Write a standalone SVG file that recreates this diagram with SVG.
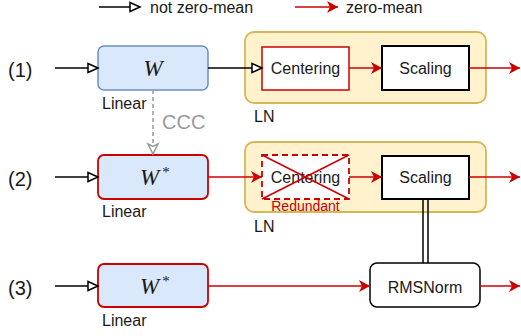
<svg xmlns="http://www.w3.org/2000/svg" width="521" height="336" viewBox="0 0 521 336">
<style>
.t{font-family:"Liberation Sans",Arial,sans-serif;fill:#1a1a1a}
.lbl{font-size:20px}
.sm{font-size:16px}
.md{font-size:16px}
.math{font-family:"Liberation Serif","Times New Roman",serif;font-style:italic;font-size:23px;fill:#1a1a1a}
.lin{fill:#dae8fc;stroke:#6c8ebf;stroke-width:1.5}
.linr{fill:#dae8fc;stroke:#cc0000;stroke-width:1.8}
.ln{fill:#fff2cc;stroke:#d6b656;stroke-width:1.8}
.blk{stroke:#000;stroke-width:1.5;fill:none}
.red{stroke:#cc0000;stroke-width:1.5;fill:none}
</style>
<defs>
<marker id="open" markerUnits="userSpaceOnUse" markerWidth="14" markerHeight="12" refX="11" refY="5" orient="auto" overflow="visible">
<path d="M1,0.5 L11,5 L1,9.5 Z" fill="#fff" stroke="#000" stroke-width="1.5"/>
</marker>
<marker id="redarr" markerUnits="userSpaceOnUse" markerWidth="14" markerHeight="14" refX="11" refY="6" orient="auto" overflow="visible">
<path d="M0,0 L11,6 L0,12 L3,6 Z" fill="#cc0000"/>
</marker>
<marker id="grayopen" markerUnits="userSpaceOnUse" markerWidth="14" markerHeight="12" refX="10" refY="5" orient="auto" overflow="visible">
<path d="M0,0 L10,5 L0,10 L2.5,5 Z" fill="#fff" stroke="#999" stroke-width="1.5"/>
</marker>
</defs>

<!-- legend -->
<g id="legend">
<line x1="99" y1="7" x2="140" y2="7" class="blk" marker-end="url(#open)"/>
<text x="150" y="13" class="t md">not zero-mean</text>
<line x1="295" y1="7" x2="338" y2="7" class="red" marker-end="url(#redarr)"/>
<text x="346" y="13" class="t md">zero-mean</text>
</g>

<!-- row labels -->
<g id="row-labels">
<text x="8" y="77" class="t lbl">(1)</text>
<text x="8" y="186" class="t lbl">(2)</text>
<text x="8" y="295" class="t lbl">(3)</text>
</g>

<!-- containers -->
<g id="ln1">
<rect x="245" y="32" width="241" height="71" rx="9" class="ln"/>
<text x="254" y="122" class="t sm">LN</text>
</g>
<g id="ln2">
<rect x="245" y="142" width="241" height="70" rx="9" class="ln"/>
<text x="254" y="232" class="t sm">LN</text>
</g>

<!-- nodes -->
<g id="linear1">
<rect x="98" y="46" width="110" height="44" rx="6" class="lin"/>
<text x="153" y="76" text-anchor="middle" class="math">W</text>
<text x="102" y="109" class="t sm">Linear</text>
</g>
<g id="centering1">
<rect x="262" y="47" width="87" height="43" fill="#fff" stroke="#cc0000" stroke-width="1.5"/>
<text x="305.5" y="74" text-anchor="middle" class="t md">Centering</text>
</g>
<g id="scaling1">
<rect x="382" y="46" width="87" height="44" fill="#fff" stroke="#000" stroke-width="2"/>
<text x="425.5" y="74" text-anchor="middle" class="t md">Scaling</text>
</g>

<g id="linear2">
<rect x="98" y="155" width="110" height="44" rx="6" class="linr"/>
<text x="140" y="185" class="math">W<tspan font-style="normal" font-size="15" dx="3" dy="-8">*</tspan></text>
<text x="102" y="217" class="t sm">Linear</text>
</g>
<g id="centering2">
<rect x="262" y="155" width="87" height="44" fill="#fff" stroke="#cc0000" stroke-width="1.8" stroke-dasharray="6 4"/>
<text x="305.5" y="183" text-anchor="middle" class="t md">Centering</text>
<line x1="262" y1="155" x2="349" y2="199" stroke="#cc0000" stroke-width="1.5"/>
<line x1="262" y1="199" x2="349" y2="155" stroke="#cc0000" stroke-width="1.5"/>
<text x="305.5" y="211" text-anchor="middle" font-family="Liberation Sans, Arial, sans-serif" font-size="14" fill="#cc0000">Redundant</text>
</g>
<g id="scaling2">
<rect x="382" y="156" width="87" height="43" fill="#fff" stroke="#000" stroke-width="2"/>
<text x="425.5" y="183" text-anchor="middle" class="t md">Scaling</text>
</g>

<g id="linear3">
<rect x="98" y="264" width="110" height="43" rx="6" class="linr"/>
<text x="140" y="294" class="math">W<tspan font-style="normal" font-size="15" dx="3" dy="-8">*</tspan></text>
<text x="102" y="326" class="t sm">Linear</text>
</g>
<g id="rmsnorm">
<rect x="370" y="263" width="110" height="44" rx="7" fill="#fff" stroke="#000" stroke-width="1.5"/>
<text x="425" y="293" text-anchor="middle" class="t md">RMSNorm</text>
</g>

<!-- connectors -->
<g id="connectors">
<line x1="55" y1="68" x2="98" y2="68" class="blk" marker-end="url(#open)"/>
<line x1="208" y1="68" x2="262" y2="68" class="blk" marker-end="url(#open)"/>
<line x1="349" y1="68" x2="382" y2="68" class="red" marker-end="url(#redarr)"/>
<line x1="469" y1="68" x2="520" y2="68" class="red" marker-end="url(#redarr)"/>

<line x1="153" y1="90" x2="153" y2="154" stroke="#999" stroke-width="1.5" stroke-dasharray="4 3" marker-end="url(#grayopen)"/>
<text x="162" y="129" font-family="Liberation Sans, Arial, sans-serif" font-size="20" fill="#999">CCC</text>

<line x1="55" y1="177" x2="98" y2="177" class="blk" marker-end="url(#open)"/>
<line x1="208" y1="177" x2="262" y2="177" class="red" marker-end="url(#redarr)"/>
<line x1="349" y1="177" x2="382" y2="177" class="red" marker-end="url(#redarr)"/>
<line x1="469" y1="177" x2="520" y2="177" class="red" marker-end="url(#redarr)"/>

<line x1="423" y1="199" x2="423" y2="263" stroke="#000" stroke-width="1.5"/>
<line x1="428" y1="199" x2="428" y2="263" stroke="#000" stroke-width="1.5"/>

<line x1="55" y1="286" x2="98" y2="286" class="blk" marker-end="url(#open)"/>
<line x1="208" y1="286" x2="370" y2="286" class="red" marker-end="url(#redarr)"/>
<line x1="480" y1="286" x2="520" y2="286" class="red" marker-end="url(#redarr)"/>
</g>
</svg>
